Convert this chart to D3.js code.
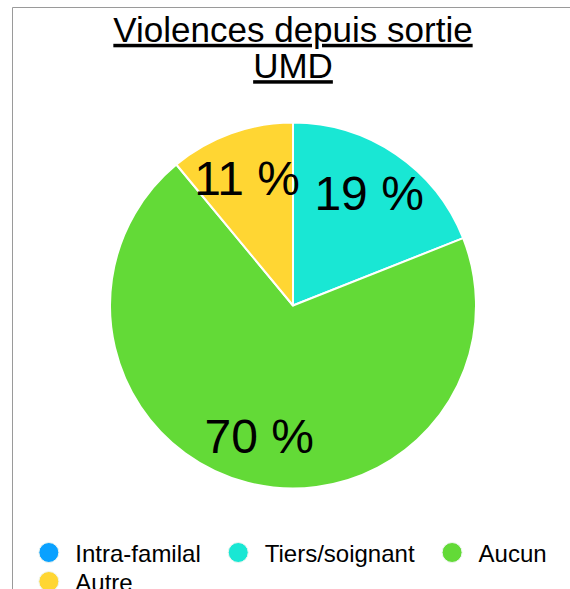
<!DOCTYPE html>
<html>
<head>
<meta charset="utf-8">
<script src="https://cdn.jsdelivr.net/npm/d3@7"></script>
<style>
  html, body { margin: 0; padding: 0; background: #fff; }
  svg { display: block; }
  text { font-family: "Liberation Sans", Helvetica, Arial, sans-serif; fill: #000; }
</style>
</head>
<body>
<script>
// ---- data ----
const categories = ["Intra-familal", "Tiers/soignant", "Aucun", "Autre"];
const values = [0, 19, 70, 11];
const colors = ["#0aa1ff", "#19e7d4", "#63da37", "#ffd633"];
const titleLines = ["Violences depuis sortie", "UMD"];

const W = 570, H = 589;
const svg = d3.select("body").append("svg").attr("width", W).attr("height", H);

// frame lines (top & left)
svg.append("line").attr("x1", 12.5).attr("y1", 7.5).attr("x2", W).attr("y2", 7.5)
  .attr("stroke", "#9a9a9a").attr("stroke-width", 1);
svg.append("line").attr("x1", 12.5).attr("y1", 7.5).attr("x2", 12.5).attr("y2", H)
  .attr("stroke", "#9a9a9a").attr("stroke-width", 1);

const cx = 293, cy = 305.5, R = 183;

// title
const title = svg.append("g");
title.selectAll("text").data(titleLines).join("text")
  .attr("x", cx)
  .attr("y", (d, i) => 41.8 + i * 36.4)
  .attr("text-anchor", "middle")
  .style("font-size", "35px")
  .style("text-decoration", "underline")
  .text(d => d);

// pie
const data = categories.map((c, i) => ({ cat: c, value: values[i], color: colors[i] }));
const pie = d3.pie().sort(null).value(d => d.value);
const arcs = pie(data);
const arc = d3.arc().innerRadius(0).outerRadius(R);
const labelArc = d3.arc().innerRadius(R * 0.74).outerRadius(R * 0.74);
const total = d3.sum(values);

const g = svg.append("g").attr("transform", `translate(${cx},${cy})`);
g.selectAll("path").data(arcs.filter(d => d.value > 0)).join("path")
  .attr("d", arc)
  .attr("fill", d => d.data.color)
  .attr("stroke", "#ffffff")
  .attr("stroke-width", 2)
  .attr("stroke-linejoin", "round");

g.selectAll("text.lbl").data(arcs.filter(d => d.value > 0)).join("text")
  .attr("class", "lbl")
  .attr("transform", d => `translate(${labelArc.centroid(d)})`)
  .attr("text-anchor", "middle")
  .attr("dominant-baseline", "central")
  .style("font-size", "48px")
  .text(d => Math.round(d.value / total * 100) + " %");

// legend
const fontSize = 24;
const tmp = svg.append("text").style("font-size", fontSize + "px");
const widths = categories.map(c => { tmp.text(c); return tmp.node().getComputedTextLength(); });
tmp.remove();
const boxW = 36, gapW = 28, maxW = 530;
const rows = [];
let cur = [], curW = 0;
categories.forEach((c, i) => {
  const w = boxW + widths[i];
  const add = (cur.length ? gapW : 0) + w;
  if (cur.length && curW + add > maxW) { rows.push({ items: cur, w: curW }); cur = []; curW = 0; }
  cur.push(i); curW += (cur.length > 1 ? gapW : 0) + w;
});
if (cur.length) rows.push({ items: cur, w: curW });
const startX = cx - rows[0].w / 2;
const legend = svg.append("g");
rows.forEach((row, r) => {
  let x = startX;
  const baseY = 561.7 + r * 29;
  row.items.forEach(i => {
    legend.append("circle")
      .attr("cx", x + 9.5).attr("cy", baseY - 9.2).attr("r", 10)
      .attr("fill", colors[i]).attr("stroke", "#eef6f0").attr("stroke-width", 1);
    legend.append("text")
      .attr("x", x + boxW).attr("y", baseY)
      .style("font-size", fontSize + "px")
      .text(categories[i]);
    x += boxW + widths[i] + gapW;
  });
});
</script>
</body>
</html>
